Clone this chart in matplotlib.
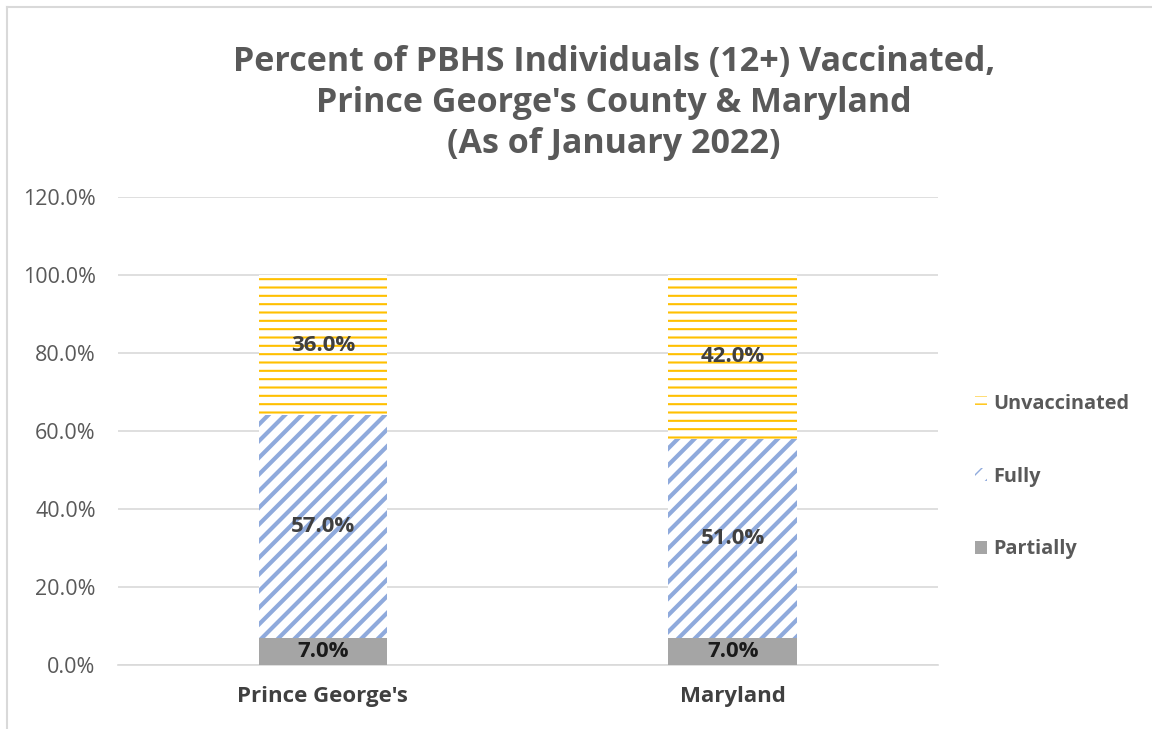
import matplotlib
matplotlib.use('Agg')
import matplotlib.pyplot as plt
from matplotlib.lines import Line2D
from matplotlib.ticker import FuncFormatter
import numpy as np

plt.rcParams['font.family'] = ['Open Sans', 'DejaVu Sans']

categories = ["Prince George's", "Maryland"]
partially = [7.0, 7.0]
fully = [57.0, 51.0]
unvaccinated = [36.0, 42.0]
yticks = [0, 20, 40, 60, 80, 100, 120]

c_part = '#A5A5A5'
c_full = '#8FAADC'
c_unv = '#FFC000'
c_text = '#595959'
c_lab = '#404040'

fig = plt.figure(figsize=(11.52, 7.29), dpi=100)
ax = fig.add_axes([0.1024, 0.0878, 0.7116, 0.642])

x = np.arange(len(categories))
w = 0.314
base_full = np.array(partially)
base_unv = base_full + np.array(fully)

b1 = ax.bar(x, partially, w, color=c_part, linewidth=0, label='Partially', zorder=3)
with plt.rc_context({'hatch.linewidth': 3.0}):
    b2 = ax.bar(x, fully, w, bottom=base_full, color='white', edgecolor=c_full,
                hatch='//', linewidth=0, label='Fully', zorder=3)
with plt.rc_context({'hatch.linewidth': 1.5}):
    b3 = ax.bar(x, unvaccinated, w, bottom=base_unv, color='white', edgecolor=c_unv,
                hatch='--', linewidth=0, label='Unvaccinated', zorder=3)

# data labels in the middle of each segment
for i in range(len(categories)):
    ax.text(x[i], partially[i] / 2, f'{partially[i]:.1f}%', ha='center', va='center',
            fontsize=16, fontweight='bold', color='#1a1a1a', zorder=5)
    ax.text(x[i], base_full[i] + fully[i] / 2, f'{fully[i]:.1f}%', ha='center', va='center',
            fontsize=16, fontweight='bold', color=c_lab, zorder=5)
    ax.text(x[i], base_unv[i] + unvaccinated[i] / 2, f'{unvaccinated[i]:.1f}%', ha='center',
            va='center', fontsize=16, fontweight='bold', color=c_lab, zorder=5)

ax.set_xlim(-0.5, 1.5)
ax.set_ylim(0, 120)
ax.set_yticks(yticks)
ax.yaxis.set_major_formatter(FuncFormatter(lambda v, p: f'{v:.1f}%'))
ax.set_xticks(x)
ax.set_xticklabels(categories, fontsize=16, fontweight='bold', color=c_lab)
ax.tick_params(axis='y', labelsize=15.5, labelcolor=c_text, length=0, pad=16)
ax.tick_params(axis='x', length=0, pad=15)
ax.grid(axis='y', color='#D9D9D9', linewidth=1.2, zorder=0)
for s in ['top', 'right', 'left']:
    ax.spines[s].set_visible(False)
ax.spines['bottom'].set_color('#D9D9D9')
ax.spines['bottom'].set_linewidth(1.2)

fig.text(614 / 1152, 1 - 103 / 729,
         "Percent of PBHS Individuals (12+) Vaccinated,\nPrince George's County & Maryland\n(As of January 2022)",
         ha='center', va='center', fontsize=24.5, fontweight='bold', color=c_text, linespacing=1.27)

leg = fig.legend([b3, b2, b1], ['Unvaccinated', 'Fully', 'Partially'],
                 loc='center left', bbox_to_anchor=(0.831, 0.346), frameon=False,
                 prop={'size': 14.3, 'weight': 'bold'}, labelspacing=2.64,
                 handlelength=0.6, handleheight=0.6, handletextpad=0.3)
for t in leg.get_texts():
    t.set_color(c_text)

# chart border
fig.add_artist(Line2D([7 / 1152, 1], [1 - 7 / 729, 1 - 7 / 729], transform=fig.transFigure,
                      color='#D9D9D9', linewidth=1.5))
fig.add_artist(Line2D([7 / 1152, 7 / 1152], [0, 1 - 7 / 729], transform=fig.transFigure,
                      color='#D9D9D9', linewidth=1.5))

fig.savefig('out.png', dpi=100)
